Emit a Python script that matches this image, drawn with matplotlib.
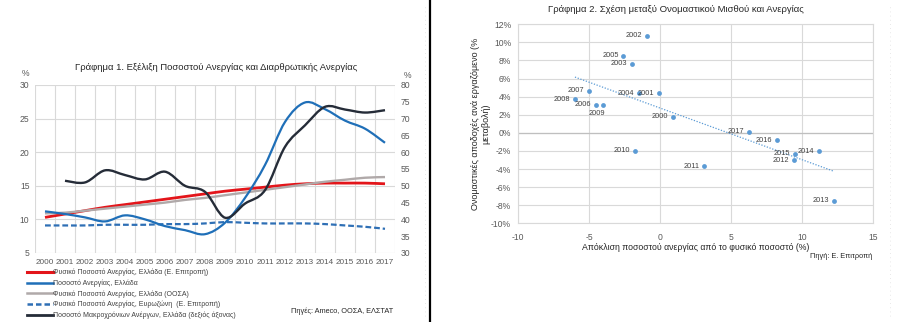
import numpy as np
import matplotlib
matplotlib.use('Agg')
import matplotlib.pyplot as plt
from matplotlib.path import Path
from matplotlib.patches import PathPatch
from matplotlib.lines import Line2D

plt.rcParams['font.family'] = ['Liberation Sans', 'DejaVu Sans']
plt.rcParams['axes.unicode_minus'] = False

# --- Γράφημα 1 ---
anos = list(range(2000, 2018))
fysiko_ek = [10.3, 10.8, 11.3, 11.8, 12.2, 12.6, 13.0, 13.4, 13.8, 14.2, 14.5, 14.8, 15.1, 15.3, 15.4, 15.4, 15.4, 15.3]
anergia = [11.2, 10.8, 10.3, 9.7, 10.6, 10.0, 9.0, 8.4, 7.8, 9.5, 13.2, 18.1, 24.5, 27.4, 26.4, 24.7, 23.5, 21.4]
fysiko_oosa = [10.9, 11.0, 11.3, 11.6, 11.9, 12.2, 12.5, 12.9, 13.2, 13.6, 14.0, 14.4, 14.8, 15.2, 15.6, 15.9, 16.2, 16.3]
fysiko_ez = [9.1, 9.1, 9.1, 9.2, 9.2, 9.2, 9.3, 9.3, 9.4, 9.6, 9.5, 9.4, 9.4, 9.4, 9.3, 9.1, 8.9, 8.6]
makroxronia = [np.nan, 51.5, 51.0, 54.6, 53.2, 51.9, 54.2, 50.0, 48.2, 40.5, 44.7, 48.7, 61.6, 68.0, 73.5, 72.7, 71.8, 72.5]

onomata = ['Φυσικό Ποσοστό Ανεργίας, Ελλάδα (Ε. Επιτροπή)',
           'Ποσοστό Ανεργίας, Ελλάδα',
           'Φυσικό Ποσοστό Ανεργίας, Ελλάδα (ΟΟΣΑ)',
           'Φυσικό Ποσοστό Ανεργίας, Ευρωζώνη  (Ε. Επιτροπή)',
           'Ποσοστό Μακροχρόνιων Ανέργων, Ελλάδα (δεξιός άξονας)']

# --- Γράφημα 2 ---
etos = [2000, 2001, 2002, 2003, 2004, 2005, 2006, 2007, 2008, 2009,
        2010, 2011, 2012, 2013, 2014, 2015, 2016, 2017]
apoklisi = [0.89, -0.05, -0.89, -1.97, -1.5, -2.58, -4.51, -5.0, -5.99, -3.99,
            -1.78, 3.12, 9.44, 12.27, 11.2, 9.5, 8.26, 6.25]
apodoxes = [1.8, 4.38, 10.74, 7.65, 4.38, 8.53, 3.08, 4.63, 3.71, 3.08,
            -1.97, -3.69, -3.03, -7.49, -2.04, -2.3, -0.82, 0.1]

GRID = '#d9d9d9'
TXT = '#404040'


def omali_grammi(ax, x, y, **kw):
    # ομαλή καμπύλη τύπου Excel (Bezier με εφαπτόμενες Catmull-Rom)
    x = np.asarray(x, float)
    y = np.asarray(y, float)
    m = ~np.isnan(y)
    p = np.column_stack([x[m], y[m]])
    n = len(p)
    verts = [p[0]]
    codes = [Path.MOVETO]
    for i in range(n - 1):
        p0 = p[i - 1] if i > 0 else p[i]
        p3 = p[i + 2] if i + 2 < n else p[i + 1]
        c1 = p[i] + (p[i + 1] - p0) / 6.0
        c2 = p[i + 1] - (p3 - p[i]) / 6.0
        verts += [c1, c2, p[i + 1]]
        codes += [Path.CURVE4] * 3
    patch = PathPatch(Path(verts, codes), fill=False, capstyle='butt', **kw)
    ax.add_patch(patch)
    return patch


fig = plt.figure(figsize=(9, 3.22), dpi=100)
W, H = 900.0, 322.0

# ---------- αριστερό γράφημα ----------
ax1 = fig.add_axes([35 / W, 1 - 253 / H, 360 / W, 168 / H])
ax2 = ax1.twinx()
xi = np.arange(len(anos))

stil = [
    (ax1, fysiko_ek, dict(color='#e3151a', lw=2.0)),
    (ax1, fysiko_oosa, dict(color='#b0a9a9', lw=1.7)),
    (ax1, fysiko_ez, dict(color='#2e6fb5', lw=1.6, linestyle=(0, (2.6, 1.3)))),
    (ax1, anergia, dict(color='#1f6fb8', lw=1.6)),
    (ax2, makroxronia, dict(color='#252c38', lw=1.7)),
]
for a, dat, kw in stil:
    omali_grammi(a, xi, dat, **kw)

ax1.set_xlim(-0.5, len(anos) - 0.5)
ax1.set_ylim(5, 30)
ax2.set_ylim(30, 80)
ax1.set_yticks(range(5, 31, 5))
ax2.set_yticks(range(30, 81, 5))
ax1.set_xticks(xi)
ax1.set_xticklabels([str(a) for a in anos])
ax1.set_xticks(np.arange(-0.5, len(anos), 1), minor=True)
ax1.grid(True, axis='x', which='minor', color=GRID, lw=0.8)
ax1.grid(True, axis='y', which='major', color=GRID, lw=0.8)
ax1.set_axisbelow(True)
for a in (ax1, ax2):
    for s in a.spines.values():
        s.set_visible(False)
    a.tick_params(length=0, labelsize=6.2, labelcolor='#595959', pad=4)
ax1.tick_params(axis='x', which='both', length=0, pad=4)
ax1.tick_params(axis='x', labelsize=5.9)

fig.text(25 / W, 1 - 74 / H, '%', fontsize=6.2, color='#595959', ha='center', va='center')
fig.text(407 / W, 1 - 75 / H, '%', fontsize=6.2, color='#595959', ha='center', va='center')
fig.text(216 / W, 1 - 67 / H,
         'Γράφημα 1. Εξέλιξη Ποσοστού Ανεργίας και Διαρθρωτικής Ανεργίας',
         fontsize=6.8, color='#262626', ha='center', va='center')

handles = [Line2D([], [], color='#e3151a', lw=2.2),
           Line2D([], [], color='#1f6fb8', lw=1.8),
           Line2D([], [], color='#b0a9a9', lw=1.8),
           Line2D([], [], color='#2e6fb5', lw=1.8, linestyle=(0, (2.2, 1.2))),
           Line2D([], [], color='#252c38', lw=2.0)]
fig.legend(handles, onomata, loc='upper left', bbox_to_anchor=(27 / W, 1 - 269 / H),
           frameon=False, fontsize=5, handlelength=3.7, handletextpad=0.1,
           labelspacing=0.45, borderpad=0, borderaxespad=0, labelcolor=TXT)
fig.text(393 / W, 1 - 311 / H, 'Πηγές: Ameco, ΟΟΣΑ, ΕΛΣΤΑΤ', fontsize=5.3,
         color='#262626', ha='right', va='center')

# διαχωριστικά
fig.add_artist(Line2D([430 / W, 430 / W], [0, 1], color='black', lw=1.6))
fig.add_artist(Line2D([425 / W, 425 / W], [0.02, 0.98], color='#e0e0e0', lw=0.6, linestyle=(0, (1, 4))))
fig.add_artist(Line2D([890 / W, 890 / W], [0.02, 0.98], color='#e0e0e0', lw=0.6, linestyle=(0, (1, 4))))

# ---------- δεξί γράφημα ----------
ax3 = fig.add_axes([518 / W, 1 - 223.3 / H, 355 / W, 199 / H])
ax3.scatter(apoklisi, apodoxes, s=12, color='#5b9bd5', zorder=3, linewidths=0)

# γραμμή τάσης (ελάχιστα τετράγωνα)
b, c = np.polyfit(apoklisi, apodoxes, 1)
xt = np.array([min(apoklisi), max(apoklisi)])
ax3.plot(xt, b * xt + c, color='#5b9bd5', lw=0.9, linestyle=(0, (1, 1.3)), zorder=2)

for e, xv, yv in zip(etos, apoklisi, apodoxes):
    if e == 2009:
        ax3.annotate(str(e), (xv, yv), xytext=(-5, -6), textcoords='offset points',
                     ha='center', va='center', fontsize=5.3, color=TXT)
    else:
        ax3.annotate(str(e), (xv, yv), xytext=(-3.5, 0), textcoords='offset points',
                     ha='right', va='center', fontsize=5.3, color=TXT)

ax3.set_xlim(-10, 15)
ax3.set_ylim(-10, 12)
ax3.set_xticks(range(-10, 16, 5))
ax3.set_yticks(range(-10, 13, 2))
ax3.set_yticklabels([f'{v}%' for v in range(-10, 13, 2)])
ax3.grid(True, color=GRID, lw=0.8)
ax3.axhline(0, color='#bfbfbf', lw=0.9, zorder=1)
ax3.set_axisbelow(True)
for s in ax3.spines.values():
    s.set_color(GRID)
    s.set_linewidth(0.8)
ax3.tick_params(length=0, labelsize=6.2, labelcolor='#595959', pad=5)
ax3.tick_params(axis='x', pad=7)

ax3.set_xlabel('Απόκλιση ποσοστού ανεργίας από το φυσικό ποσοστό (%)',
               fontsize=6.3, color='#262626', labelpad=0.5)
fig.text(481 / W, 1 - 124 / H, 'Ονομαστικές αποδοχές ανά εργαζόμενο (%\nμεταβολή)',
         fontsize=6.5, color='#262626', rotation=90, ha='center', va='center',
         multialignment='center', linespacing=1.2)
fig.text(676 / W, 1 - 9.5 / H, 'Γράφημα 2. Σχέση μεταξύ Ονομαστικού Μισθού και Ανεργίας',
         fontsize=6.8, color='#262626', ha='center', va='center')
fig.text(872 / W, 1 - 256 / H, 'Πηγή: Ε. Επιτροπή', fontsize=5.3,
         color='#262626', ha='right', va='center')

fig.savefig('out.png', dpi=100)
